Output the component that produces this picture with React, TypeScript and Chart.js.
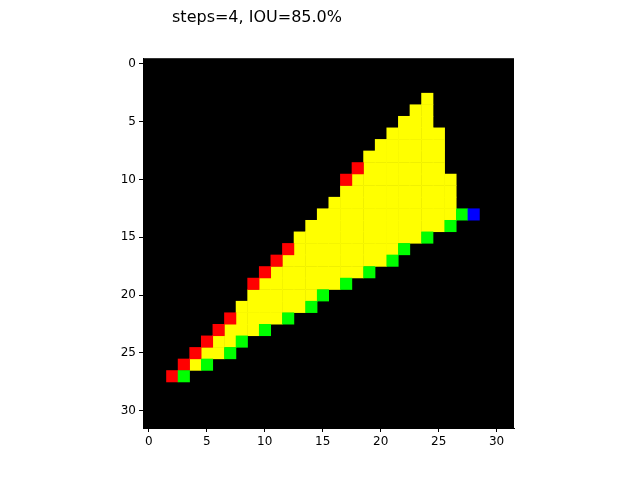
import React, { useEffect, useRef } from "react";
import { Chart, registerables } from "chart.js";
Chart.register(...registerables);

const gridSize = 32;
const tickValues = [0, 5, 10, 15, 20, 25, 30];
// yellow runs: [row, firstCol, lastCol]
const yellowRuns = [
  [3, 24, 24], [4, 23, 24], [5, 22, 24], [6, 21, 25], [7, 20, 25], [8, 19, 25],
  [9, 19, 25], [10, 18, 26], [11, 17, 26], [12, 16, 26], [13, 15, 26], [14, 14, 25],
  [15, 13, 23], [16, 13, 21], [17, 12, 20], [18, 11, 18], [19, 10, 16], [20, 9, 14],
  [21, 8, 13], [22, 8, 11], [23, 7, 9], [24, 6, 7], [25, 5, 6], [26, 4, 4],
];
// single cells: [col, row]
const redCells = [
  [18, 9], [17, 10], [12, 16], [11, 17], [10, 18], [9, 19], [7, 22], [6, 23],
  [5, 24], [4, 25], [3, 26], [2, 27],
];
const greenCells = [
  [27, 13], [26, 14], [24, 15], [22, 16], [21, 17], [19, 18], [17, 19], [15, 20],
  [14, 21], [12, 22], [10, 23], [8, 24], [7, 25], [5, 26], [3, 27],
];
const blueCells = [[28, 13]];

const yellowCells: number[][] = [];
yellowRuns.forEach(([r, a, b]) => {
  for (let c = a; c <= b; c++) yellowCells.push([c, r]);
});

const cellPlugin = {
  id: "cells",
  beforeDatasetsDraw(chart: any) {
    const { ctx, chartArea, scales } = chart;
    ctx.save();
    ctx.fillStyle = "#000000";
    ctx.fillRect(chartArea.left, chartArea.top, chartArea.right - chartArea.left, chartArea.bottom - chartArea.top);
    chart.data.datasets.forEach((ds: any) => {
      ctx.fillStyle = ds.backgroundColor;
      ds.data.forEach((p: any) => {
        const x0 = scales.x.getPixelForValue(p.x - 0.5);
        const x1 = scales.x.getPixelForValue(p.x + 0.5);
        const y0 = scales.y.getPixelForValue(p.y - 0.5);
        const y1 = scales.y.getPixelForValue(p.y + 0.5);
        ctx.fillRect(Math.min(x0, x1), Math.min(y0, y1), Math.abs(x1 - x0) + 0.5, Math.abs(y1 - y0) + 0.5);
      });
    });
    ctx.restore();
  },
};

const toPts = (a: number[][]) => a.map(([x, y]) => ({ x, y }));

export default function App() {
  const ref = useRef<HTMLCanvasElement | null>(null);
  useEffect(() => {
    document.body.style.margin = "0";
    if (!ref.current) return;
    const axis = (reverse: boolean) => ({
      type: "linear" as const,
      min: -0.5,
      max: gridSize - 0.5,
      reverse,
      afterBuildTicks: (s: any) => {
        s.ticks = tickValues.map((v) => ({ value: v }));
      },
      grid: { display: true, drawOnChartArea: false, tickLength: 4, color: "#000" },
      border: { color: "#000" },
      ticks: { color: "#000", font: { family: "DejaVu Sans", size: 12 }, padding: 3 },
    });
    const chart = new Chart(ref.current, {
      type: "scatter",
      data: {
        datasets: [
          { data: toPts(yellowCells), backgroundColor: "#ffff00", pointRadius: 0 },
          { data: toPts(redCells), backgroundColor: "#ff0000", pointRadius: 0 },
          { data: toPts(greenCells), backgroundColor: "#00ff00", pointRadius: 0 },
          { data: toPts(blueCells), backgroundColor: "#0000ff", pointRadius: 0 },
        ],
      },
      options: {
        animation: false,
        responsive: false,
        layout: { padding: { left: 0, right: 126, top: 0, bottom: 0 } },
        plugins: {
          legend: { display: false },
          tooltip: { enabled: false },
          title: {
            display: true,
            text: "steps=4, IOU=85.0%",
            color: "#000",
            font: { family: "DejaVu Sans", size: 16, weight: "normal" },
            padding: { top: 8, bottom: 31 },
          },
        },
        scales: {
          x: { ...axis(false), afterFit: (s: any) => { s.height = 52; } },
          y: { ...axis(true), afterFit: (s: any) => { s.width = 143; } },
        },
      } as any,
      plugins: [cellPlugin],
    });
    return () => chart.destroy();
  }, []);
  return <canvas ref={ref} width={640} height={480} style={{ width: 640, height: 480 }} />;
}
